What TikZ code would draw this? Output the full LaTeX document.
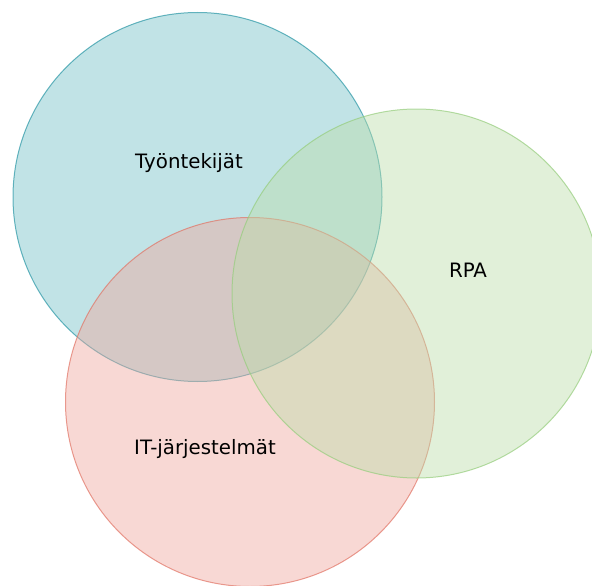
\documentclass[tikz,border=0pt]{standalone}
\usepackage{fontspec}
\setmainfont{DejaVu Sans}
\begin{document}
\begin{tikzpicture}[x=1pt,y=-1pt,
  setcircle/.style={draw, line width=1pt, fill opacity=0.44, draw opacity=0.7},
  setlabel/.style={font=\fontsize{19.8}{23}\selectfont, text=black, inner sep=0pt}]
  \definecolor{tealfill}{RGB}{114,191,198}
  \definecolor{tealline}{RGB}{40,150,165}
  \definecolor{redfill}{RGB}{239,166,157}
  \definecolor{redline}{RGB}{225,115,100}
  \definecolor{greenfill}{RGB}{187,221,169}
  \definecolor{greenline}{RGB}{150,205,125}
  \useasboundingbox (0,0) rectangle (592,586);
  \clip (0,0) rectangle (592,586);
  % the three overlapping sets
  \path[setcircle, fill=tealfill, draw=tealline] (197.5,197) circle[radius=184.5];
  \path[setcircle, fill=redfill, draw=redline] (250,402) circle[radius=184.5];
  \path[setcircle, fill=greenfill, draw=greenline] (416.5,293.5) circle[radius=184.5];
  % set names
  \node[setlabel] (tyontekijat) at (189,163) {Työntekijät};
  \node[setlabel] (rpa) at (468,270) {RPA};
  \node[setlabel] (itjarjestelmat) at (205,449) {IT-järjestelmät};
\end{tikzpicture}
\end{document}
